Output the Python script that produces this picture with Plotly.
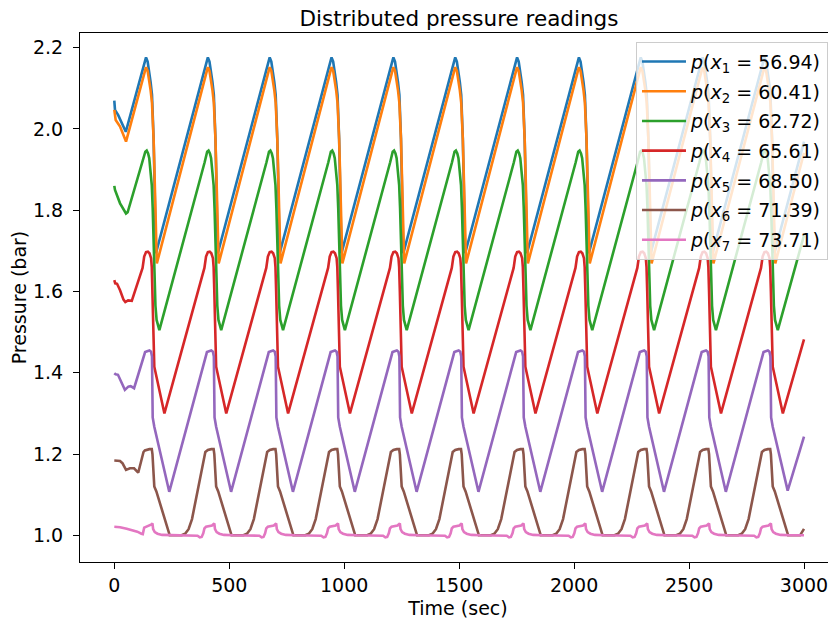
import plotly.graph_objects as go

# ---------------- data ----------------
labels = ["56.94", "60.41", "62.72", "65.61", "68.50", "71.39", "73.71"]
colors = ["#1f77b4", "#ff7f0e", "#2ca02c", "#d62728", "#9467bd", "#8c564b", "#e377c2"]

x_ticks = [0, 500, 1000, 1500, 2000, 2500, 3000]
y_ticks = [1.0, 1.2, 1.4, 1.6, 1.8, 2.0, 2.2]

t_p1 = [0, 3, 17, 39, 50,
        135, 138, 145, 152, 158, 164, 168, 171, 174, 177, 181,
        404, 407, 414, 421, 427, 433, 437, 440, 443, 446, 450,
        673, 676, 683, 690, 696, 702, 706, 709, 712, 715, 719,
        942, 945, 952, 959, 965, 971, 975, 978, 981, 984, 988,
        1211, 1214, 1221, 1228, 1234, 1240, 1244, 1247, 1250, 1253, 1257,
        1480, 1483, 1490, 1497, 1503, 1509, 1513, 1516, 1519, 1522, 1526,
        1749, 1752, 1759, 1766, 1772, 1778, 1782, 1785, 1788, 1791, 1795,
        2018, 2021, 2028, 2035, 2041, 2047, 2051, 2054, 2057, 2060, 2064,
        2287, 2290, 2297, 2304, 2310, 2316, 2320, 2323, 2326, 2329, 2333,
        2556, 2559, 2566, 2573, 2579, 2585, 2589, 2592, 2595, 2598, 2602,
        2825, 2828, 2835, 2842, 2848, 2854, 2858, 2861, 2864, 2867, 2871,
        3000]
p1 = [2.070, 2.047, 2.034, 2.006, 1.993,
      2.170, 2.176, 2.166, 2.141, 2.115, 2.084, 2.040, 1.975, 1.895, 1.820, 1.694,
      2.170, 2.176, 2.166, 2.141, 2.115, 2.084, 2.040, 1.975, 1.895, 1.820, 1.694,
      2.170, 2.176, 2.166, 2.141, 2.115, 2.084, 2.040, 1.975, 1.895, 1.820, 1.694,
      2.170, 2.176, 2.166, 2.141, 2.115, 2.084, 2.040, 1.975, 1.895, 1.820, 1.694,
      2.170, 2.176, 2.166, 2.141, 2.115, 2.084, 2.040, 1.975, 1.895, 1.820, 1.694,
      2.170, 2.176, 2.166, 2.141, 2.115, 2.084, 2.040, 1.975, 1.895, 1.820, 1.694,
      2.170, 2.176, 2.166, 2.141, 2.115, 2.084, 2.040, 1.975, 1.895, 1.820, 1.694,
      2.170, 2.176, 2.166, 2.141, 2.115, 2.084, 2.040, 1.975, 1.895, 1.820, 1.694,
      2.170, 2.176, 2.166, 2.141, 2.115, 2.084, 2.040, 1.975, 1.895, 1.820, 1.694,
      2.170, 2.176, 2.166, 2.141, 2.115, 2.084, 2.040, 1.975, 1.895, 1.820, 1.694,
      2.170, 2.176, 2.166, 2.141, 2.115, 2.084, 2.040, 1.975, 1.895, 1.820, 1.694,
      1.969]

t_p2 = [0, 6, 25, 51,
        135, 138, 145, 152, 158, 164, 168, 171, 175, 180, 185,
        404, 407, 414, 421, 427, 433, 437, 440, 444, 449, 454,
        673, 676, 683, 690, 696, 702, 706, 709, 713, 718, 723,
        942, 945, 952, 959, 965, 971, 975, 978, 982, 987, 992,
        1211, 1214, 1221, 1228, 1234, 1240, 1244, 1247, 1251, 1256, 1261,
        1480, 1483, 1490, 1497, 1503, 1509, 1513, 1516, 1520, 1525, 1530,
        1749, 1752, 1759, 1766, 1772, 1778, 1782, 1785, 1789, 1794, 1799,
        2018, 2021, 2028, 2035, 2041, 2047, 2051, 2054, 2058, 2063, 2068,
        2287, 2290, 2297, 2304, 2310, 2316, 2320, 2323, 2327, 2332, 2337,
        2556, 2559, 2566, 2573, 2579, 2585, 2589, 2592, 2596, 2601, 2606,
        2825, 2828, 2835, 2842, 2848, 2854, 2858, 2861, 2865, 2870, 2875,
        3000]
p2 = [2.047, 2.022, 2.006, 1.969,
      2.146, 2.152, 2.143, 2.120, 2.095, 2.064, 2.025, 1.975, 1.890, 1.790, 1.669,
      2.146, 2.152, 2.143, 2.120, 2.095, 2.064, 2.025, 1.975, 1.890, 1.790, 1.669,
      2.146, 2.152, 2.143, 2.120, 2.095, 2.064, 2.025, 1.975, 1.890, 1.790, 1.669,
      2.146, 2.152, 2.143, 2.120, 2.095, 2.064, 2.025, 1.975, 1.890, 1.790, 1.669,
      2.146, 2.152, 2.143, 2.120, 2.095, 2.064, 2.025, 1.975, 1.890, 1.790, 1.669,
      2.146, 2.152, 2.143, 2.120, 2.095, 2.064, 2.025, 1.975, 1.890, 1.790, 1.669,
      2.146, 2.152, 2.143, 2.120, 2.095, 2.064, 2.025, 1.975, 1.890, 1.790, 1.669,
      2.146, 2.152, 2.143, 2.120, 2.095, 2.064, 2.025, 1.975, 1.890, 1.790, 1.669,
      2.146, 2.152, 2.143, 2.120, 2.095, 2.064, 2.025, 1.975, 1.890, 1.790, 1.669,
      2.146, 2.152, 2.143, 2.120, 2.095, 2.064, 2.025, 1.975, 1.890, 1.790, 1.669,
      2.146, 2.152, 2.143, 2.120, 2.095, 2.064, 2.025, 1.975, 1.890, 1.790, 1.669,
      1.941]

t_p3 = [0, 3, 25, 51, 58,
        124, 130, 135, 141, 147, 152, 158, 163, 167, 170, 174, 179, 184, 196,
        393, 399, 404, 410, 416, 421, 427, 432, 436, 439, 443, 448, 453, 465,
        662, 668, 673, 679, 685, 690, 696, 701, 705, 708, 712, 717, 722, 734,
        931, 937, 942, 948, 954, 959, 965, 970, 974, 977, 981, 986, 991, 1003,
        1200, 1206, 1211, 1217, 1223, 1228, 1234, 1239, 1243, 1246, 1250, 1255, 1260, 1272,
        1469, 1475, 1480, 1486, 1492, 1497, 1503, 1508, 1512, 1515, 1519, 1524, 1529, 1541,
        1738, 1744, 1749, 1755, 1761, 1766, 1772, 1777, 1781, 1784, 1788, 1793, 1798, 1810,
        2007, 2013, 2018, 2024, 2030, 2035, 2041, 2046, 2050, 2053, 2057, 2062, 2067, 2079,
        2276, 2282, 2287, 2293, 2299, 2304, 2310, 2315, 2319, 2322, 2326, 2331, 2336, 2348,
        2545, 2551, 2556, 2562, 2568, 2573, 2579, 2584, 2588, 2591, 2595, 2600, 2605, 2617,
        2814, 2820, 2825, 2831, 2837, 2842, 2848, 2853, 2857, 2860, 2864, 2869, 2874, 2886,
        3000]
p3 = [1.860, 1.850, 1.817, 1.792, 1.795,
      1.918, 1.935, 1.944, 1.947, 1.940, 1.928, 1.900, 1.862, 1.805, 1.750, 1.632, 1.565, 1.530, 1.505,
      1.918, 1.935, 1.944, 1.947, 1.940, 1.928, 1.900, 1.862, 1.805, 1.750, 1.632, 1.565, 1.530, 1.505,
      1.918, 1.935, 1.944, 1.947, 1.940, 1.928, 1.900, 1.862, 1.805, 1.750, 1.632, 1.565, 1.530, 1.505,
      1.918, 1.935, 1.944, 1.947, 1.940, 1.928, 1.900, 1.862, 1.805, 1.750, 1.632, 1.565, 1.530, 1.505,
      1.918, 1.935, 1.944, 1.947, 1.940, 1.928, 1.900, 1.862, 1.805, 1.750, 1.632, 1.565, 1.530, 1.505,
      1.918, 1.935, 1.944, 1.947, 1.940, 1.928, 1.900, 1.862, 1.805, 1.750, 1.632, 1.565, 1.530, 1.505,
      1.918, 1.935, 1.944, 1.947, 1.940, 1.928, 1.900, 1.862, 1.805, 1.750, 1.632, 1.565, 1.530, 1.505,
      1.918, 1.935, 1.944, 1.947, 1.940, 1.928, 1.900, 1.862, 1.805, 1.750, 1.632, 1.565, 1.530, 1.505,
      1.918, 1.935, 1.944, 1.947, 1.940, 1.928, 1.900, 1.862, 1.805, 1.750, 1.632, 1.565, 1.530, 1.505,
      1.918, 1.935, 1.944, 1.947, 1.940, 1.928, 1.900, 1.862, 1.805, 1.750, 1.632, 1.565, 1.530, 1.505,
      1.918, 1.935, 1.944, 1.947, 1.940, 1.928, 1.900, 1.862, 1.805, 1.750, 1.632, 1.565, 1.530, 1.505,
      1.738]

t_p4 = [0, 4, 12, 25, 40, 48, 60, 76,
        123, 130, 138, 146, 153, 160, 163, 166, 169, 172, 174, 218,
        392, 399, 407, 415, 422, 429, 432, 435, 438, 441, 443, 487,
        661, 668, 676, 684, 691, 698, 701, 704, 707, 710, 712, 756,
        930, 937, 945, 953, 960, 967, 970, 973, 976, 979, 981, 1025,
        1199, 1206, 1214, 1222, 1229, 1236, 1239, 1242, 1245, 1248, 1250, 1294,
        1468, 1475, 1483, 1491, 1498, 1505, 1508, 1511, 1514, 1517, 1519, 1563,
        1737, 1744, 1752, 1760, 1767, 1774, 1777, 1780, 1783, 1786, 1788, 1832,
        2006, 2013, 2021, 2029, 2036, 2043, 2046, 2049, 2052, 2055, 2057, 2101,
        2275, 2282, 2290, 2298, 2305, 2312, 2315, 2318, 2321, 2324, 2326, 2370,
        2544, 2551, 2559, 2567, 2574, 2581, 2584, 2587, 2590, 2593, 2595, 2639,
        2813, 2820, 2828, 2836, 2843, 2850, 2853, 2856, 2859, 2862, 2864, 2908,
        3000]
p4 = [1.628, 1.620, 1.619, 1.603, 1.580, 1.574, 1.578, 1.577,
      1.658, 1.686, 1.697, 1.698, 1.694, 1.682, 1.660, 1.600, 1.510, 1.440, 1.415, 1.300,
      1.658, 1.686, 1.697, 1.698, 1.694, 1.682, 1.660, 1.600, 1.510, 1.440, 1.415, 1.300,
      1.658, 1.686, 1.697, 1.698, 1.694, 1.682, 1.660, 1.600, 1.510, 1.440, 1.415, 1.300,
      1.658, 1.686, 1.697, 1.698, 1.694, 1.682, 1.660, 1.600, 1.510, 1.440, 1.415, 1.300,
      1.658, 1.686, 1.697, 1.698, 1.694, 1.682, 1.660, 1.600, 1.510, 1.440, 1.415, 1.300,
      1.658, 1.686, 1.697, 1.698, 1.694, 1.682, 1.660, 1.600, 1.510, 1.440, 1.415, 1.300,
      1.658, 1.686, 1.697, 1.698, 1.694, 1.682, 1.660, 1.600, 1.510, 1.440, 1.415, 1.300,
      1.658, 1.686, 1.697, 1.698, 1.694, 1.682, 1.660, 1.600, 1.510, 1.440, 1.415, 1.300,
      1.658, 1.686, 1.697, 1.698, 1.694, 1.682, 1.660, 1.600, 1.510, 1.440, 1.415, 1.300,
      1.658, 1.686, 1.697, 1.698, 1.694, 1.682, 1.660, 1.600, 1.510, 1.440, 1.415, 1.300,
      1.658, 1.686, 1.697, 1.698, 1.694, 1.682, 1.660, 1.600, 1.510, 1.440, 1.415, 1.300,
      1.482]

t_p5 = [0, 6, 16, 36, 46, 61, 71, 86,
        130, 134, 143, 153, 160, 164, 167, 174, 239,
        399, 403, 412, 422, 429, 433, 436, 443, 508,
        668, 672, 681, 691, 698, 702, 705, 712, 777,
        937, 941, 950, 960, 967, 971, 974, 981, 1046,
        1206, 1210, 1219, 1229, 1236, 1240, 1243, 1250, 1315,
        1475, 1479, 1488, 1498, 1505, 1509, 1512, 1519, 1584,
        1744, 1748, 1757, 1767, 1774, 1778, 1781, 1788, 1853,
        2013, 2017, 2026, 2036, 2043, 2047, 2050, 2057, 2122,
        2282, 2286, 2295, 2305, 2312, 2316, 2319, 2326, 2391,
        2551, 2555, 2564, 2574, 2581, 2585, 2588, 2595, 2660,
        2820, 2824, 2833, 2843, 2850, 2854, 2857, 2864, 2929,
        3000]
p5 = [1.399, 1.396, 1.395, 1.370, 1.358, 1.366, 1.367, 1.362,
      1.443, 1.451, 1.453, 1.455, 1.452, 1.440, 1.290, 1.267, 1.107,
      1.443, 1.451, 1.453, 1.455, 1.452, 1.440, 1.290, 1.267, 1.107,
      1.443, 1.451, 1.453, 1.455, 1.452, 1.440, 1.290, 1.267, 1.107,
      1.443, 1.451, 1.453, 1.455, 1.452, 1.440, 1.290, 1.267, 1.107,
      1.443, 1.451, 1.453, 1.455, 1.452, 1.440, 1.290, 1.267, 1.107,
      1.443, 1.451, 1.453, 1.455, 1.452, 1.440, 1.290, 1.267, 1.107,
      1.443, 1.451, 1.453, 1.455, 1.452, 1.440, 1.290, 1.267, 1.107,
      1.443, 1.451, 1.453, 1.455, 1.452, 1.440, 1.290, 1.267, 1.107,
      1.443, 1.451, 1.453, 1.455, 1.452, 1.440, 1.290, 1.267, 1.107,
      1.443, 1.451, 1.453, 1.455, 1.452, 1.440, 1.290, 1.267, 1.107,
      1.443, 1.451, 1.453, 1.455, 1.452, 1.440, 1.290, 1.267, 1.110,
      1.243]

t_p6 = [0, 25, 36, 51, 68, 86, 104,
        127, 133, 138, 153, 163, 166, 170, 174, 183, 241, 293, 308, 323, 338,
        396, 402, 407, 422, 432, 435, 439, 443, 452, 510, 562, 577, 592, 607,
        665, 671, 676, 691, 701, 704, 708, 712, 721, 779, 831, 846, 861, 876,
        934, 940, 945, 960, 970, 973, 977, 981, 990, 1048, 1100, 1115, 1130, 1145,
        1203, 1209, 1214, 1229, 1239, 1242, 1246, 1250, 1259, 1317, 1369, 1384, 1399, 1414,
        1472, 1478, 1483, 1498, 1508, 1511, 1515, 1519, 1528, 1586, 1638, 1653, 1668, 1683,
        1741, 1747, 1752, 1767, 1777, 1780, 1784, 1788, 1797, 1855, 1907, 1922, 1937, 1952,
        2010, 2016, 2021, 2036, 2046, 2049, 2053, 2057, 2066, 2124, 2176, 2191, 2206, 2221,
        2279, 2285, 2290, 2305, 2315, 2318, 2322, 2326, 2335, 2393, 2445, 2460, 2475, 2490,
        2548, 2554, 2559, 2574, 2584, 2587, 2591, 2595, 2604, 2662, 2714, 2729, 2744, 2759,
        2817, 2823, 2828, 2843, 2853, 2856, 2860, 2864, 2873, 2931, 2983,
        3000]
p6 = [1.184, 1.183, 1.177, 1.161, 1.165, 1.165, 1.154,
      1.205, 1.209, 1.210, 1.212, 1.212, 1.200, 1.160, 1.120, 1.108, 1.000, 1.000, 1.004, 1.015, 1.040,
      1.205, 1.209, 1.210, 1.212, 1.212, 1.200, 1.160, 1.120, 1.108, 1.000, 1.000, 1.004, 1.015, 1.040,
      1.205, 1.209, 1.210, 1.212, 1.212, 1.200, 1.160, 1.120, 1.108, 1.000, 1.000, 1.004, 1.015, 1.040,
      1.205, 1.209, 1.210, 1.212, 1.212, 1.200, 1.160, 1.120, 1.108, 1.000, 1.000, 1.004, 1.015, 1.040,
      1.205, 1.209, 1.210, 1.212, 1.212, 1.200, 1.160, 1.120, 1.108, 1.000, 1.000, 1.004, 1.015, 1.040,
      1.205, 1.209, 1.210, 1.212, 1.212, 1.200, 1.160, 1.120, 1.108, 1.000, 1.000, 1.004, 1.015, 1.040,
      1.205, 1.209, 1.210, 1.212, 1.212, 1.200, 1.160, 1.120, 1.108, 1.000, 1.000, 1.004, 1.015, 1.040,
      1.205, 1.209, 1.210, 1.212, 1.212, 1.200, 1.160, 1.120, 1.108, 1.000, 1.000, 1.004, 1.015, 1.040,
      1.205, 1.209, 1.210, 1.212, 1.212, 1.200, 1.160, 1.120, 1.108, 1.000, 1.000, 1.004, 1.015, 1.040,
      1.205, 1.209, 1.210, 1.212, 1.212, 1.200, 1.160, 1.120, 1.108, 1.000, 1.000, 1.004, 1.015, 1.040,
      1.205, 1.209, 1.210, 1.212, 1.212, 1.200, 1.160, 1.120, 1.108, 1.000, 1.000,
      1.016]

t_p7 = [0, 25, 54, 80, 100, 118, 124,
        130, 143, 156, 162, 166, 169, 176, 188, 208, 248, 308, 338,
        362, 372, 380, 387, 392, 399, 412, 425, 431, 435, 438, 445, 457, 477, 517, 577, 607,
        631, 641, 649, 656, 661, 668, 681, 694, 700, 704, 707, 714, 726, 746, 786, 846, 876,
        900, 910, 918, 925, 930, 937, 950, 963, 969, 973, 976, 983, 995, 1015, 1055, 1115, 1145,
        1169, 1179, 1187, 1194, 1199, 1206, 1219, 1232, 1238, 1242, 1245, 1252, 1264, 1284, 1324, 1384, 1414,
        1438, 1448, 1456, 1463, 1468, 1475, 1488, 1501, 1507, 1511, 1514, 1521, 1533, 1553, 1593, 1653, 1683,
        1707, 1717, 1725, 1732, 1737, 1744, 1757, 1770, 1776, 1780, 1783, 1790, 1802, 1822, 1862, 1922, 1952,
        1976, 1986, 1994, 2001, 2006, 2013, 2026, 2039, 2045, 2049, 2052, 2059, 2071, 2091, 2131, 2191, 2221,
        2245, 2255, 2263, 2270, 2275, 2282, 2295, 2308, 2314, 2318, 2321, 2328, 2340, 2360, 2400, 2460, 2490,
        2514, 2524, 2532, 2539, 2544, 2551, 2564, 2577, 2583, 2587, 2590, 2597, 2609, 2629, 2669, 2729, 2759,
        2783, 2793, 2801, 2808, 2813, 2820, 2833, 2846, 2852, 2856, 2859, 2866, 2878, 2898, 2938, 3000]
p7 = [1.021, 1.020, 1.016, 1.012, 1.009, 1.004, 1.003,
      1.019, 1.022, 1.024, 1.027, 1.029, 1.015, 1.008, 1.004, 1.001, 1.000, 1.000, 0.999,
      0.999, 0.995, 0.996, 1.005, 1.017, 1.021, 1.022, 1.024, 1.027, 1.029, 1.015, 1.008, 1.004, 1.001, 1.000, 1.000, 0.999,
      0.999, 0.995, 0.996, 1.005, 1.017, 1.021, 1.022, 1.024, 1.027, 1.029, 1.015, 1.008, 1.004, 1.001, 1.000, 1.000, 0.999,
      0.999, 0.995, 0.996, 1.005, 1.017, 1.021, 1.022, 1.024, 1.027, 1.029, 1.015, 1.008, 1.004, 1.001, 1.000, 1.000, 0.999,
      0.999, 0.995, 0.996, 1.005, 1.017, 1.021, 1.022, 1.024, 1.027, 1.029, 1.015, 1.008, 1.004, 1.001, 1.000, 1.000, 0.999,
      0.999, 0.995, 0.996, 1.005, 1.017, 1.021, 1.022, 1.024, 1.027, 1.029, 1.015, 1.008, 1.004, 1.001, 1.000, 1.000, 0.999,
      0.999, 0.995, 0.996, 1.005, 1.017, 1.021, 1.022, 1.024, 1.027, 1.029, 1.015, 1.008, 1.004, 1.001, 1.000, 1.000, 0.999,
      0.999, 0.995, 0.996, 1.005, 1.017, 1.021, 1.022, 1.024, 1.027, 1.029, 1.015, 1.008, 1.004, 1.001, 1.000, 1.000, 0.999,
      0.999, 0.995, 0.996, 1.005, 1.017, 1.021, 1.022, 1.024, 1.027, 1.029, 1.015, 1.008, 1.004, 1.001, 1.000, 1.000, 0.999,
      0.999, 0.995, 0.996, 1.005, 1.017, 1.021, 1.022, 1.024, 1.027, 1.029, 1.015, 1.008, 1.004, 1.001, 1.000, 1.000, 0.999,
      0.999, 0.995, 0.996, 1.005, 1.017, 1.021, 1.022, 1.024, 1.027, 1.029, 1.015, 1.008, 1.004, 1.001, 1.000, 1.000]

times = [t_p1, t_p2, t_p3, t_p4, t_p5, t_p6, t_p7]
series = [p1, p2, p3, p4, p5, p6, p7]

for i, (t, p) in enumerate(zip(times, series)):
    assert len(t) == len(p), (i, len(t), len(p))

# ---------------- figure ----------------
# The page body has an 8px margin, so the figure is sized 8px smaller and
# its margins are shifted by 8px to land at the reference positions.
FONT = "DejaVu Sans"
TICK_SIZE = 19
fig = go.Figure()
for i, (t, p) in enumerate(zip(times, series)):
    name = f"<i>p</i>(<i>x</i><sub>{i + 1}</sub> = {labels[i]})"
    fig.add_trace(go.Scatter(
        x=t, y=p, mode="lines", name=name, legendgroup=f"g{i}",
        line=dict(color=colors[i], width=2.6),
    ))

axis_common = dict(
    showline=True, mirror=True, linecolor="black", linewidth=1.1,
    ticks="outside", ticklen=6, tickwidth=1.1, tickcolor="black",
    showgrid=False, zeroline=False, automargin=False,
    tickfont=dict(family=FONT, size=TICK_SIZE, color="black"),
)

fig.update_layout(
    width=828, height=617,
    margin=dict(l=72, r=0, t=25, b=63),
    paper_bgcolor="white", plot_bgcolor="white",
    font=dict(family=FONT, size=TICK_SIZE, color="black"),
    title=dict(text="Distributed pressure readings", x=451 / 828, xanchor="center",
               y=1 - 3 / 617, yanchor="top", xref="container", yref="container",
               pad=dict(t=0, b=0, l=0, r=0),
               font=dict(family=FONT, size=21.5, color="black")),
    xaxis=dict(range=[-149.2, 3139.2], tickvals=x_ticks,
               ticktext=[str(v) for v in x_ticks],
               title=dict(text="Time (sec)", standoff=6,
                          font=dict(family=FONT, size=TICK_SIZE, color="black")),
               **axis_common),
    yaxis=dict(range=[0.9343, 2.2362], tickvals=y_ticks,
               ticktext=[f"{v:.1f}" for v in y_ticks],
               ticklabelstandoff=6,
               title=dict(text="Pressure (bar)", standoff=5,
                          font=dict(family=FONT, size=TICK_SIZE, color="black")),
               **axis_common),
    legend=dict(x=0.9894, xanchor="right", y=0.9836, yanchor="top",
                bgcolor="rgba(255,255,255,0.8)", bordercolor="#cccccc", borderwidth=1,
                font=dict(family=FONT, size=TICK_SIZE, color="black"),
                tracegroupgap=2, itemwidth=44),
    showlegend=True,
)

fig.write_html("out.html")
